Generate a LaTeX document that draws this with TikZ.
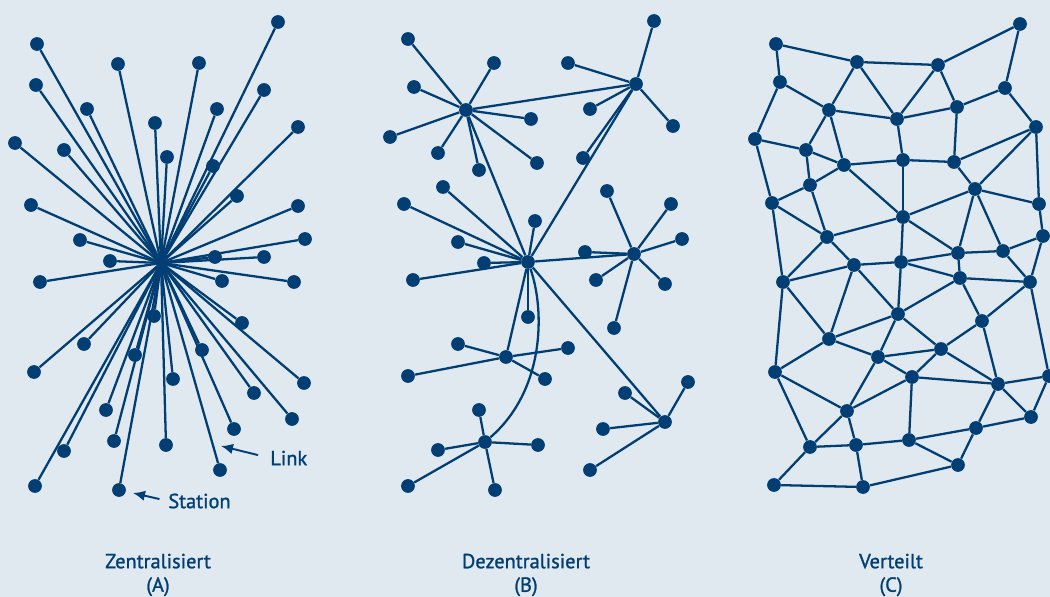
\documentclass[tikz,border=0pt]{standalone}
\usepackage{fontspec}
\setmainfont{PT Sans}
\newfontfamily\lblfont{PT Sans}[FakeBold=1.2]
\usetikzlibrary{arrows.meta}
\definecolor{bgc}{RGB}{224,233,239}
\definecolor{nb}{RGB}{0,62,115}
\begin{document}
\begin{tikzpicture}[x=0.02cm,y=-0.02cm,
  dot/.style={circle,fill=nb,inner sep=0pt,minimum size=0.275cm},
  ln/.style={draw=nb,line width=1.3pt},
  lbl/.style={text=nb,font=\lblfont\fontsize{11.6}{13.4}\selectfont,align=center,inner sep=0pt},
  arr/.style={draw=nb,line width=1.1pt,-{Latex[length=2.4mm,width=2.1mm]}}]
\fill[bgc] (0,0) rectangle (1050,597);
\useasboundingbox (0,0) rectangle (1050,597);

% ---------- Panel A: centralised ----------
\coordinate (A) at (161,263);
\foreach \x/\y [count=\i] in {278/22,37/44,118/64,199/63,36/85,264/90,87/109,217/109,155/123,298/127,
  15/143,64/150,167/157,213/166,237/196,31/205,298/206,80/240,305/239,110/261,215/257,264/257,
  40/282,222/281,294/282,154/316,242/323,84/344,135/355,202/350,34/372,173/379,304/383,254/393,
  106/410,292/419,234/429,114/441,166/445,64/451,220/470,35/486,119/490}
{
  \node[dot] (a\i) at (\x,\y) {};
  \draw[ln] (A) -- (a\i);
}
\node[lbl,anchor=west] (link) at (270,458) {Link};
\coordinate (linktip) at (221,446);
\draw[arr,shorten <=7pt] (link.west) -- (linktip);
\node[lbl,anchor=west] (station) at (168,501) {Station};
\coordinate (stationtip) at (133,493);
\draw[arr,shorten <=5pt] (station.west) -- (stationtip);

% ---------- Panel B: decentralised ----------
\node[dot] (B1) at (466,110) {};
\node[dot] (B2) at (636,84) {};
\node[dot] (B3) at (528,262) {};
\node[dot] (B4) at (634,254) {};
\node[dot] (B5) at (506,357) {};
\node[dot] (B6) at (485,442) {};
\node[dot] (B7) at (665,422) {};
\foreach \h/\lst in {B1/{408/39,494/63,414/87,390/137,531/119,438/153,479/170,537/163},
                     B2/{654/21,568/63,590/109,673/126,583/158},
                     B3/{443/187,404/204,535/221,458/242,484/263,413/280,528/317},
                     B4/{607/191,671/204,682/239,585/252,596/280,665/284,614/328},
                     B5/{458/344,568/348,408/376,545/379},
                     B6/{479/410,438/450,538/445,408/486,495/490},
                     B7/{688/382,625/393,603/429,590/470}}
{
  \foreach \x/\y [count=\i] in \lst {
    \node[dot] (\h s\i) at (\x,\y) {};
    \draw[ln] (\h) -- (\h s\i);
  }
}
\draw[ln] (B1) -- (B2);
\draw[ln] (B1) -- (B3);
\draw[ln] (B2) -- (B3);
\draw[ln] (B3) -- (B4);
\draw[ln] (B3) -- (B5);
\draw[ln] (B3) -- (B7);
\draw[ln] (B3) .. controls (545,310) and (545,390) .. (B6);

% ---------- Panel C: distributed ----------
\foreach \n/\x/\y in {1/776/44,2/857/62,3/938/65,4/1020/24,5/780/82,6/1005/88,7/829/110,8/897/119,
  9/957/107,10/1036/127,11/755/139,12/806/150,13/844/165,14/903/160,15/954/162,16/810/185,
  17/975/189,18/772/203,19/1039/204,20/903/217,21/1043/236,22/827/237,23/958/253,24/1003/251,
  25/854/265,26/901/262,29/783/282,30/960/278,31/1030/282,32/898/314,33/982/321,34/829/339,
  35/878/357,36/941/349,37/775/372,38/912/377,39/998/384,40/1049/376,41/847/411,42/1031/417,
  43/976/428,44/810/447,45/856/445,46/909/440,47/958/465,48/774/485,49/863/487}
{
  \node[dot] (c\n) at (\x,\y) {};
}
\foreach \u/\v in {1/2,1/5,2/3,3/4,4/6,2/7,2/8,3/8,3/9,5/7,5/11,7/8,8/9,9/6,6/10,7/12,7/13,8/14,9/15,
  11/12,11/18,12/13,12/16,13/14,14/15,13/16,15/10,15/17,10/17,10/19,13/20,14/20,16/18,16/22,17/20,
  17/19,17/23,17/24,18/22,18/29,19/21,20/23,20/26,22/25,22/29,22/20,23/24,24/21,21/31,24/31,
  25/26,26/23,23/30,26/30,30/31,29/25,25/34,25/32,26/32,29/34,29/37,30/32,30/33,31/33,31/40,
  32/35,32/36,34/32,34/35,34/37,33/36,33/39,35/36,35/38,35/41,36/38,36/39,38/39,38/41,38/46,
  37/41,37/44,39/40,39/42,39/43,40/42,43/42,41/44,41/45,44/45,45/46,46/43,46/47,43/47,44/48,
  45/49,48/49,49/47}
{
  \draw[ln] (c\u) -- (c\v);
}

% ---------- captions ----------
\node[lbl] (capA) at (158,575) {Zentralisiert\\(A)};
\node[lbl] (capB) at (526,575) {Dezentralisiert\\(B)};
\node[lbl] (capC) at (891,575) {Verteilt\\(C)};
\end{tikzpicture}
\end{document}
